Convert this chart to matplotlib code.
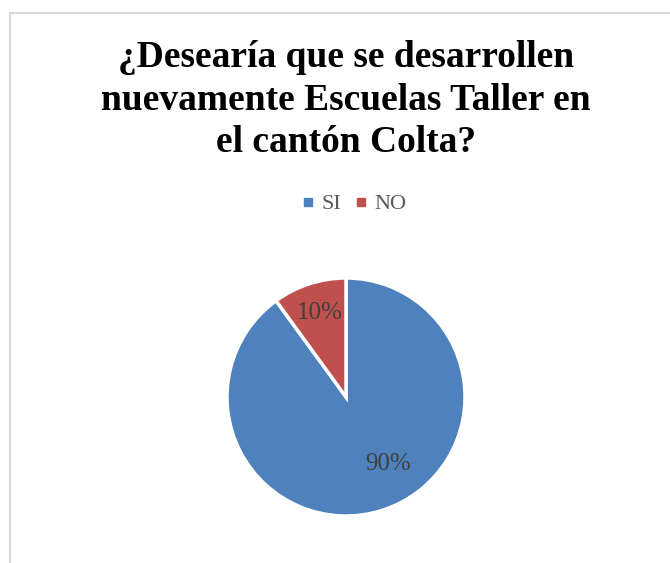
import matplotlib.pyplot as plt
import matplotlib.patches as mpatches
from matplotlib.lines import Line2D
import numpy as np

categories = ["SI", "NO"]
values = [90, 10]
colors = ["#4F81BD", "#C0504D"]
title = "¿Desearía que se desarrollen\nnuevamente Escuelas Taller en\nel cantón Colta?"

W, H = 670, 563
fig = plt.figure(figsize=(W / 100, H / 100), dpi=100)

# light grey chart-area frame (runs off the right and bottom edges)
frame = mpatches.Rectangle((10 / W, -0.05), 1.0, 1 - 13 / H + 0.05,
                           transform=fig.transFigure, fill=False,
                           edgecolor="#D9D9D9", linewidth=1.5)
fig.patches.append(frame)

fig.text(346 / W, 1 - 40 / H, title, ha="center", va="top",
         fontsize=27, fontweight="bold", family="Liberation Serif",
         linespacing=1.28, color="black")

# pie, centred at (346, 397) px with radius 119 px
cx, cy, r = 346, 397, 119
ax = fig.add_axes([(cx - r) / W, (H - cy - r) / H, 2 * r / W, 2 * r / H])
wedges, texts, autotexts = ax.pie(
    values, colors=colors, startangle=90, counterclock=False,
    autopct="%1.0f%%", pctdistance=0.7,
    wedgeprops=dict(edgecolor="white", linewidth=2.5),
    textprops=dict(color="#404040", fontsize=18, family="Liberation Serif"),
)
ax.set_xlim(-1, 1)
ax.set_ylim(-1, 1)
ax.set_aspect("equal")

# nudge the labels the way the original places them
label_pos = {0: (0.35, -0.56), 1: (-0.22, 0.71)}
for i, t in enumerate(autotexts):
    t.set_position(label_pos[i])

handles = [Line2D([], [], marker="s", linestyle="none", markersize=6,
                  markerfacecolor=c, markeredgecolor=c) for c in colors]
fig.legend(handles, categories, loc="center", bbox_to_anchor=(352 / W, 1 - 204 / H),
           ncol=2, frameon=False, handletextpad=0.1, columnspacing=0.4,
           handlelength=1.0,
           prop=dict(family="Liberation Serif", size=16), labelcolor="#595959")

fig.savefig("out.png", dpi=100)
